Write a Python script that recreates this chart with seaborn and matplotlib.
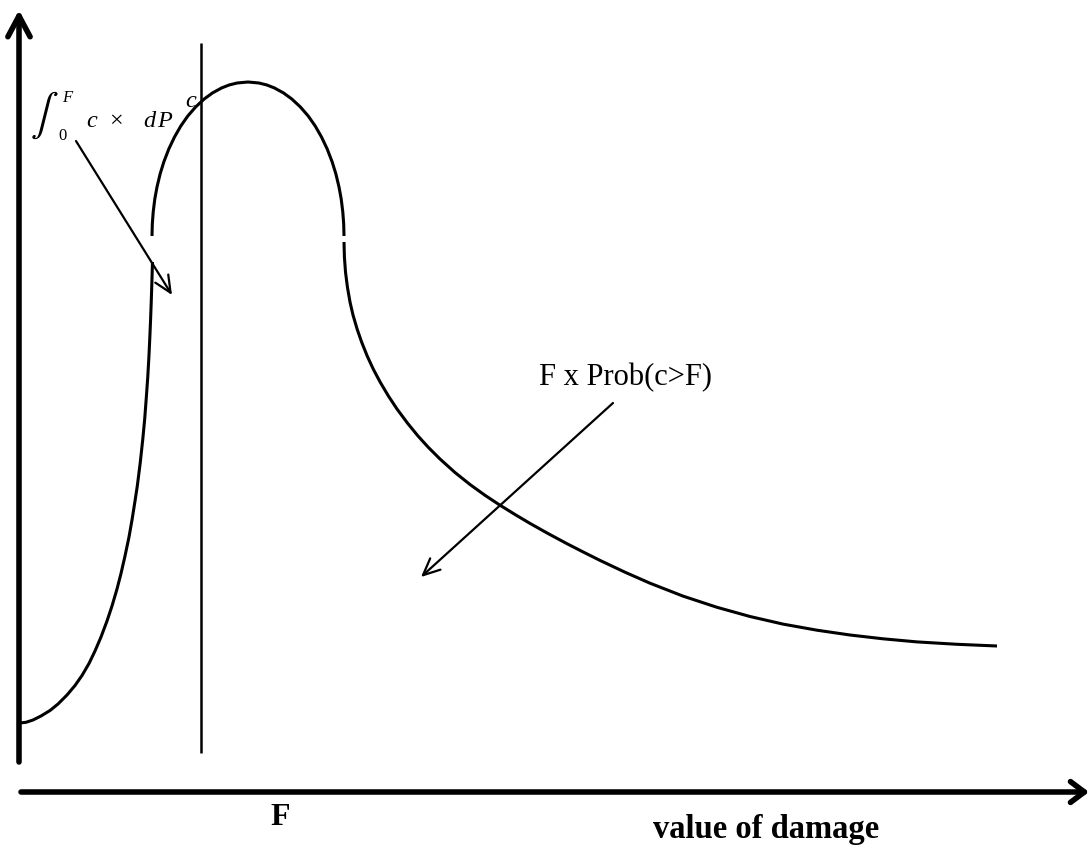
import matplotlib
matplotlib.use("Agg")
import matplotlib.pyplot as plt
import seaborn as sns

# ---- data (figure pixel units, y grows downward) ----
# rising left branch of the density
left_x = [20, 26, 33, 41, 50, 58, 67, 75, 82, 89, 95, 101, 107, 112, 117, 121, 125, 129,
          132, 134.7, 137.3, 140.2, 142.8, 144.7, 146.2, 147.7, 148.9, 149.8, 150.6,
          151.2, 151.7, 152.1, 152.5]
left_y = [724, 723.3, 721, 717, 711.5, 705, 696, 686.5, 676.5, 664.5, 652, 638, 622, 607,
          590, 574.5, 557, 538, 521, 504, 487, 464, 440, 420, 400, 379, 358, 339, 320,
          304, 289, 276, 263]
# rounded hump
arc_x = [152, 152.3, 153.2, 154.8, 157.0, 160.1, 163.8, 168.8, 174.5, 180.8, 187.8, 195.6,
         204.2, 212.4, 221.5, 229.1, 237.1, 248, 258.9, 266.9, 274.5, 283.6, 291.8, 300.4,
         308.2, 315.2, 321.5, 327.2, 332.2, 335.9, 339.0, 341.2, 342.8, 343.7, 344]
arc_y = [237, 225, 213, 200, 188, 175, 163, 150, 138, 127, 117, 108,
         100, 94, 89, 86, 84, 83, 84, 86, 89, 94, 100, 108,
         117, 127, 138, 150, 163, 175, 188, 200, 213, 225, 237]
# long right tail
right_x = [344, 344.4, 345.5, 347.4, 350.0, 353.0, 357.1, 361.6, 367.2, 373.2, 380.1, 388.4,
           397.0, 407.4, 418, 428, 440, 455, 470, 485, 500, 515, 530, 548, 567, 583, 600,
           625, 650, 683, 717, 750, 783, 817, 850, 883, 917, 957, 997]
right_y = [243, 258, 273, 288, 303, 316, 330, 343, 357, 370, 383, 397,
           410, 424, 437, 448, 460, 473.5, 485.5, 496.3, 506.2, 515.5, 524.4, 534.5, 544.7,
           552.9, 561.4, 573.2, 584.2, 597.1, 608.3, 617.5, 625.1, 631.2, 636.0, 639.8,
           642.9, 645.3, 647]
# vertical line at the threshold F
f_line_x = [201, 201]
f_line_y = [44, 754]

x_label = "value of damage"
f_label = "F"
tail_label = "F x Prob(c>F)"

sns.set_style("white")
plt.rcParams["font.family"] = ["Liberation Serif", "DejaVu Serif"]
plt.rcParams["mathtext.fontset"] = "stix"
plt.rcParams["text.color"] = "black"
plt.rcParams["lines.solid_joinstyle"] = "round"
plt.rcParams["lines.solid_capstyle"] = "butt"

fig = plt.figure(figsize=(10.92, 8.53), dpi=100)
ax = fig.add_axes([0, 0, 1, 1])

for xs, ys in [(left_x, left_y), (arc_x, arc_y), (right_x, right_y)]:
    sns.lineplot(x=xs, y=ys, sort=False, estimator=None, color="black",
                 linewidth=2.2, ax=ax, legend=False)
sns.lineplot(x=f_line_x, y=f_line_y, sort=False, estimator=None, color="black",
             linewidth=1.8, ax=ax, legend=False)

ax.set_xlim(0, 1092)
ax.set_ylim(853, 0)
ax.axis("off")

# axes with open arrow heads
ax.annotate("", xy=(19, 11), xytext=(19, 763),
            arrowprops=dict(arrowstyle="->,head_length=1.5,head_width=0.8", lw=4,
                            color="black", shrinkA=0, shrinkB=0, mutation_scale=10))
ax.annotate("", xy=(1089, 793), xytext=(21, 793),
            arrowprops=dict(arrowstyle="->,head_length=1.0,head_width=0.75", lw=4,
                            color="black", shrinkA=0, shrinkB=0, mutation_scale=10))

# pointer arrows
ax.annotate("", xy=(172, 296), xytext=(76, 142),
            arrowprops=dict(arrowstyle="->,head_length=1.2,head_width=0.55", lw=1.6,
                            color="black", shrinkA=0, shrinkB=0, mutation_scale=10))
ax.annotate("", xy=(421, 578), xytext=(613, 404),
            arrowprops=dict(arrowstyle="->,head_length=1.2,head_width=0.55", lw=1.6,
                            color="black", shrinkA=0, shrinkB=0, mutation_scale=10))

# labels
ax.text(539, 385, tail_label, fontsize=22, ha="left", va="baseline", color="black")
ax.text(280, 825, f_label, fontsize=23, fontweight="bold", ha="center", va="baseline",
        color="black")
ax.text(766, 838, x_label, fontsize=23.5, fontweight="bold", ha="center", va="baseline",
        color="black")

# integral expression
ax.text(44, 115, r"$\int$", fontsize=30, ha="center", va="center", color="black")
ax.text(62, 102, "F", fontsize=12, style="italic", ha="left", va="baseline", color="black")
ax.text(58, 140, "0", fontsize=12, ha="left", va="baseline", color="black")
ax.text(86, 127, "c", fontsize=17.5, style="italic", ha="left", va="baseline", color="black")
ax.text(116, 127, "\u00d7", fontsize=17.5, ha="center", va="baseline", color="black")
ax.text(143, 127, "d", fontsize=17.5, style="italic", ha="left", va="baseline", color="black")
ax.text(157, 127, "P", fontsize=17.5, style="italic", ha="left", va="baseline", color="black")
ax.text(185, 107, "c", fontsize=17.5, style="italic", ha="left", va="baseline", color="black")

fig.savefig("out.png", dpi=100)
